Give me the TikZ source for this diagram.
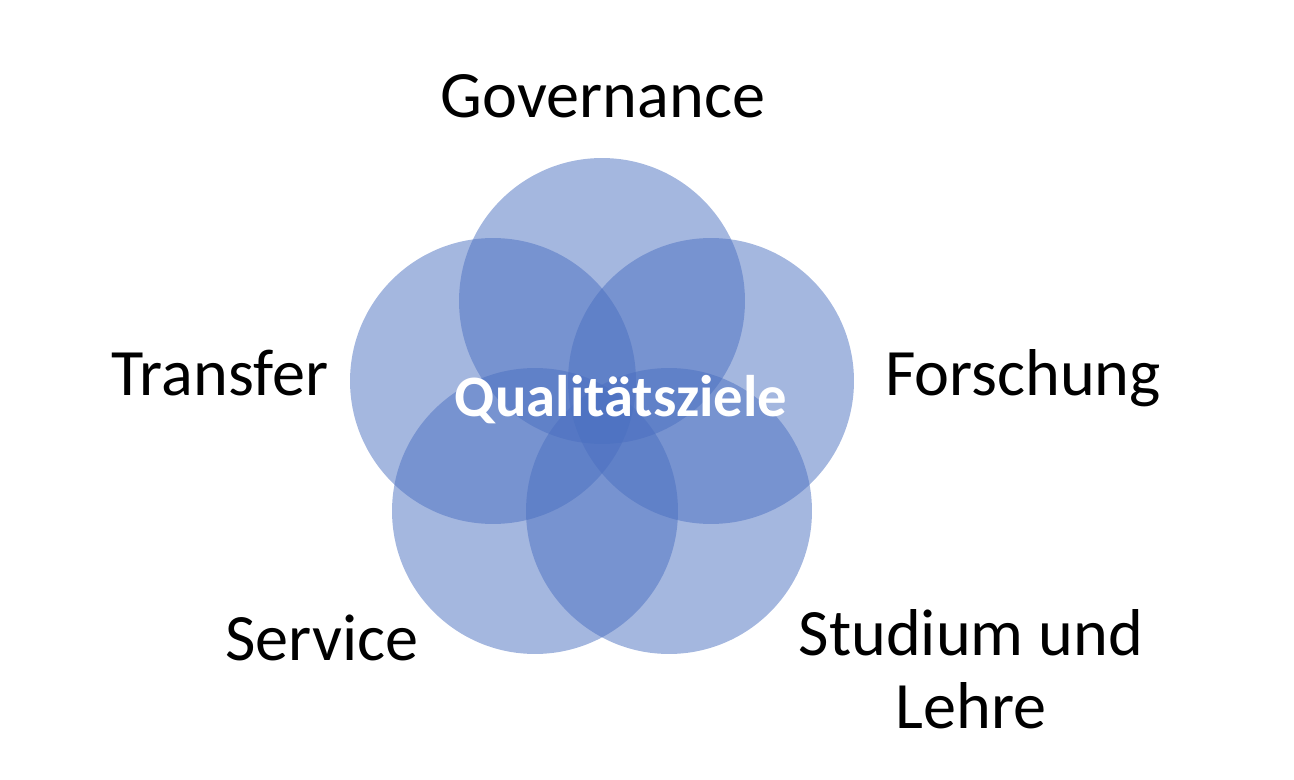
\documentclass[tikz,border=0pt]{standalone}
\usepackage{fontspec}
\setmainfont{Carlito}
\definecolor{ringblue}{HTML}{4A6FC0}
\begin{document}
\begin{tikzpicture}[
        x=0.02cm, y=-0.02cm,
        ring/.style={
          circle,
          fill=ringblue,
          fill opacity=0.5,
          minimum size=5.72cm,
          inner sep=0pt
        },
        label/.style={
          anchor=base,
          align=center,
          font=\fontsize{37.7}{41.4}\selectfont
        }
      ]
      \useasboundingbox (0,0) rectangle (1294,780);

      \node[ring] (governance) at (602,301) {};
      \node[ring] (forschung) at (711,381) {};
      \node[ring] (studium) at (669,511) {};
      \node[ring] (service) at (535,511) {};
      \node[ring] (transfer) at (493,381) {};

      \node[label] (tgov) at (603,118) {Governance};
      \node[label] (tfor) at (1023,395) {Forschung};
      \node[label] (tstu) at (971,728) {Studium und\\Lehre};
      \node[label] (tser) at (322,660) {Service};
      \node[label] (ttra) at (220,395) {Transfer};

      \node[anchor=base, text=white, font=\fontsize{33.4}{40}\selectfont\bfseries]
        (ziele) at (621,416) {Qualitätsziele};
    \end{tikzpicture}
\end{document}
